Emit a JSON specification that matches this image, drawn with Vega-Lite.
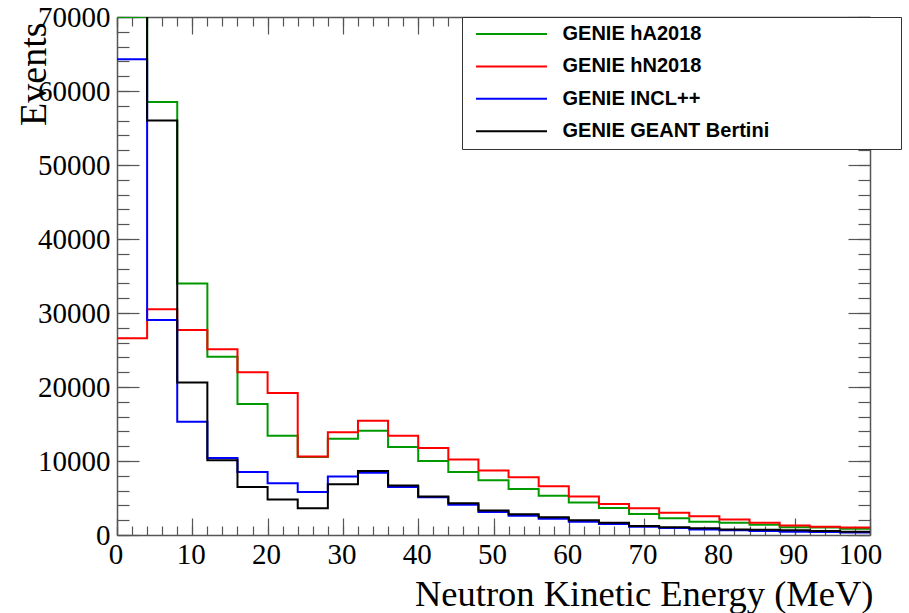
{
  "$schema": "https://vega.github.io/schema/vega-lite/v6.json",
  "width": 753,
  "height": 518,
  "autosize": {"type": "none"},
  "padding": {"left": 117, "top": 17, "right": 39, "bottom": 78},
  "background": "white",
  "config": {
    "view": {"stroke": null},
    "axis": {
      "grid": false,
      "labelFont": "Liberation Serif",
      "titleFont": "Liberation Serif",
      "labelColor": "black",
      "titleColor": "black",
      "tickColor": "#555",
      "domainColor": "#555",
      "tickWidth": 1.2,
      "domainWidth": 1.5
    }
  },
  "data": {
    "values": [
      {"m": "GENIE hA2018", "lo": 0, "hi": 4, "n": 70000},
      {"m": "GENIE hA2018", "lo": 4, "hi": 8, "n": 58500},
      {"m": "GENIE hA2018", "lo": 8, "hi": 12, "n": 34000},
      {"m": "GENIE hA2018", "lo": 12, "hi": 16, "n": 24100},
      {"m": "GENIE hA2018", "lo": 16, "hi": 20, "n": 17700},
      {"m": "GENIE hA2018", "lo": 20, "hi": 24, "n": 13400},
      {"m": "GENIE hA2018", "lo": 24, "hi": 28, "n": 10550},
      {"m": "GENIE hA2018", "lo": 28, "hi": 32, "n": 13000},
      {"m": "GENIE hA2018", "lo": 32, "hi": 36, "n": 14100},
      {"m": "GENIE hA2018", "lo": 36, "hi": 40, "n": 11900},
      {"m": "GENIE hA2018", "lo": 40, "hi": 44, "n": 10000},
      {"m": "GENIE hA2018", "lo": 44, "hi": 48, "n": 8500},
      {"m": "GENIE hA2018", "lo": 48, "hi": 52, "n": 7400},
      {"m": "GENIE hA2018", "lo": 52, "hi": 56, "n": 6200},
      {"m": "GENIE hA2018", "lo": 56, "hi": 60, "n": 5300},
      {"m": "GENIE hA2018", "lo": 60, "hi": 64, "n": 4400},
      {"m": "GENIE hA2018", "lo": 64, "hi": 68, "n": 3650},
      {"m": "GENIE hA2018", "lo": 68, "hi": 72, "n": 2850},
      {"m": "GENIE hA2018", "lo": 72, "hi": 76, "n": 2250},
      {"m": "GENIE hA2018", "lo": 76, "hi": 80, "n": 1800},
      {"m": "GENIE hA2018", "lo": 80, "hi": 84, "n": 1650},
      {"m": "GENIE hA2018", "lo": 84, "hi": 88, "n": 1400},
      {"m": "GENIE hA2018", "lo": 88, "hi": 92, "n": 1050},
      {"m": "GENIE hA2018", "lo": 92, "hi": 96, "n": 1000},
      {"m": "GENIE hA2018", "lo": 96, "hi": 100, "n": 850},
      {"m": "GENIE hN2018", "lo": 0, "hi": 4, "n": 26600},
      {"m": "GENIE hN2018", "lo": 4, "hi": 8, "n": 30500},
      {"m": "GENIE hN2018", "lo": 8, "hi": 12, "n": 27700},
      {"m": "GENIE hN2018", "lo": 12, "hi": 16, "n": 25100},
      {"m": "GENIE hN2018", "lo": 16, "hi": 20, "n": 22000},
      {"m": "GENIE hN2018", "lo": 20, "hi": 24, "n": 19200},
      {"m": "GENIE hN2018", "lo": 24, "hi": 28, "n": 10600},
      {"m": "GENIE hN2018", "lo": 28, "hi": 32, "n": 13900},
      {"m": "GENIE hN2018", "lo": 32, "hi": 36, "n": 15450},
      {"m": "GENIE hN2018", "lo": 36, "hi": 40, "n": 13400},
      {"m": "GENIE hN2018", "lo": 40, "hi": 44, "n": 11750},
      {"m": "GENIE hN2018", "lo": 44, "hi": 48, "n": 10200},
      {"m": "GENIE hN2018", "lo": 48, "hi": 52, "n": 8700},
      {"m": "GENIE hN2018", "lo": 52, "hi": 56, "n": 7800},
      {"m": "GENIE hN2018", "lo": 56, "hi": 60, "n": 6600},
      {"m": "GENIE hN2018", "lo": 60, "hi": 64, "n": 5200},
      {"m": "GENIE hN2018", "lo": 64, "hi": 68, "n": 4200},
      {"m": "GENIE hN2018", "lo": 68, "hi": 72, "n": 3600},
      {"m": "GENIE hN2018", "lo": 72, "hi": 76, "n": 3000},
      {"m": "GENIE hN2018", "lo": 76, "hi": 80, "n": 2550},
      {"m": "GENIE hN2018", "lo": 80, "hi": 84, "n": 2100},
      {"m": "GENIE hN2018", "lo": 84, "hi": 88, "n": 1650},
      {"m": "GENIE hN2018", "lo": 88, "hi": 92, "n": 1300},
      {"m": "GENIE hN2018", "lo": 92, "hi": 96, "n": 1100},
      {"m": "GENIE hN2018", "lo": 96, "hi": 100, "n": 1000},
      {"m": "GENIE INCL++", "lo": 0, "hi": 4, "n": 64300},
      {"m": "GENIE INCL++", "lo": 4, "hi": 8, "n": 29050},
      {"m": "GENIE INCL++", "lo": 8, "hi": 12, "n": 15300},
      {"m": "GENIE INCL++", "lo": 12, "hi": 16, "n": 10400},
      {"m": "GENIE INCL++", "lo": 16, "hi": 20, "n": 8500},
      {"m": "GENIE INCL++", "lo": 20, "hi": 24, "n": 7000},
      {"m": "GENIE INCL++", "lo": 24, "hi": 28, "n": 5800},
      {"m": "GENIE INCL++", "lo": 28, "hi": 32, "n": 7900},
      {"m": "GENIE INCL++", "lo": 32, "hi": 36, "n": 8400},
      {"m": "GENIE INCL++", "lo": 36, "hi": 40, "n": 6500},
      {"m": "GENIE INCL++", "lo": 40, "hi": 44, "n": 5100},
      {"m": "GENIE INCL++", "lo": 44, "hi": 48, "n": 4100},
      {"m": "GENIE INCL++", "lo": 48, "hi": 52, "n": 3100},
      {"m": "GENIE INCL++", "lo": 52, "hi": 56, "n": 2600},
      {"m": "GENIE INCL++", "lo": 56, "hi": 60, "n": 2200},
      {"m": "GENIE INCL++", "lo": 60, "hi": 64, "n": 1800},
      {"m": "GENIE INCL++", "lo": 64, "hi": 68, "n": 1500},
      {"m": "GENIE INCL++", "lo": 68, "hi": 72, "n": 1100},
      {"m": "GENIE INCL++", "lo": 72, "hi": 76, "n": 950},
      {"m": "GENIE INCL++", "lo": 76, "hi": 80, "n": 750},
      {"m": "GENIE INCL++", "lo": 80, "hi": 84, "n": 650},
      {"m": "GENIE INCL++", "lo": 84, "hi": 88, "n": 550},
      {"m": "GENIE INCL++", "lo": 88, "hi": 92, "n": 450},
      {"m": "GENIE INCL++", "lo": 92, "hi": 96, "n": 400},
      {"m": "GENIE INCL++", "lo": 96, "hi": 100, "n": 350},
      {"m": "GENIE GEANT Bertini", "lo": 0, "hi": 4, "n": 72000},
      {"m": "GENIE GEANT Bertini", "lo": 4, "hi": 8, "n": 56000},
      {"m": "GENIE GEANT Bertini", "lo": 8, "hi": 12, "n": 20600},
      {"m": "GENIE GEANT Bertini", "lo": 12, "hi": 16, "n": 10100},
      {"m": "GENIE GEANT Bertini", "lo": 16, "hi": 20, "n": 6500},
      {"m": "GENIE GEANT Bertini", "lo": 20, "hi": 24, "n": 4800},
      {"m": "GENIE GEANT Bertini", "lo": 24, "hi": 28, "n": 3600},
      {"m": "GENIE GEANT Bertini", "lo": 28, "hi": 32, "n": 6850},
      {"m": "GENIE GEANT Bertini", "lo": 32, "hi": 36, "n": 8650},
      {"m": "GENIE GEANT Bertini", "lo": 36, "hi": 40, "n": 6700},
      {"m": "GENIE GEANT Bertini", "lo": 40, "hi": 44, "n": 5200},
      {"m": "GENIE GEANT Bertini", "lo": 44, "hi": 48, "n": 4300},
      {"m": "GENIE GEANT Bertini", "lo": 48, "hi": 52, "n": 3300},
      {"m": "GENIE GEANT Bertini", "lo": 52, "hi": 56, "n": 2800},
      {"m": "GENIE GEANT Bertini", "lo": 56, "hi": 60, "n": 2400},
      {"m": "GENIE GEANT Bertini", "lo": 60, "hi": 64, "n": 2000},
      {"m": "GENIE GEANT Bertini", "lo": 64, "hi": 68, "n": 1650},
      {"m": "GENIE GEANT Bertini", "lo": 68, "hi": 72, "n": 1200},
      {"m": "GENIE GEANT Bertini", "lo": 72, "hi": 76, "n": 1050},
      {"m": "GENIE GEANT Bertini", "lo": 76, "hi": 80, "n": 900},
      {"m": "GENIE GEANT Bertini", "lo": 80, "hi": 84, "n": 750},
      {"m": "GENIE GEANT Bertini", "lo": 84, "hi": 88, "n": 700},
      {"m": "GENIE GEANT Bertini", "lo": 88, "hi": 92, "n": 650},
      {"m": "GENIE GEANT Bertini", "lo": 92, "hi": 96, "n": 550},
      {"m": "GENIE GEANT Bertini", "lo": 96, "hi": 100, "n": 450}
    ]
  },
  "transform": [
    {"fold": ["lo", "hi"], "as": ["edge", "e"]}
  ],
  "resolve": {"axis": {"x": "independent", "y": "independent"}},
  "layer": [
    {
      "mark": {"type": "line", "clip": true, "strokeWidth": 2},
      "encoding": {
        "x": {
          "field": "e", "type": "quantitative",
          "scale": {"domain": [0, 100], "nice": false, "zero": false},
          "axis": {
            "orient": "bottom",
            "values": [0, 10, 20, 30, 40, 50, 60, 70, 80, 90, 100],
            "format": "d",
            "tickSize": -17,
            "labelPadding": 45,
            "labelBaseline": "alphabetic",
            "labelFontSize": 29,
            "labelFlush": false,
            "labelOverlap": false,
            "labelOffset": {"condition": {"test": "datum.value === 100", "value": -10}, "value": -1.5},
            "title": "Neutron Kinetic Energy (MeV)",
            "titleFontSize": 36.5,
            "titleFontWeight": "normal",
            "titleAnchor": "end",
            "titleAlign": "right",
            "titleBaseline": "alphabetic",
            "titleX": 756,
            "titleY": 70
          }
        },
        "y": {
          "field": "n", "type": "quantitative",
          "scale": {"domain": [0, 70000], "nice": false},
          "axis": {
            "orient": "left",
            "values": [0, 10000, 20000, 30000, 40000, 50000, 60000, 70000],
            "format": "d",
            "tickSize": -22,
            "labelPadding": 29,
            "labelFontSize": 29,
            "labelFlush": false,
            "labelOverlap": false,
            "title": "Events",
            "titleFontSize": 38,
            "titleFontWeight": "normal",
            "titleAngle": -90,
            "titleAnchor": "end",
            "titleAlign": "right",
            "titleBaseline": "alphabetic",
            "titleX": -72,
            "titleY": 5
          }
        },
        "color": {
          "field": "m", "type": "nominal",
          "scale": {
            "domain": ["GENIE hA2018", "GENIE hN2018", "GENIE INCL++", "GENIE GEANT Bertini"],
            "range": ["#009900", "#ff0000", "#0000ff", "#000000"]
          },
          "legend": {
            "orient": "none",
            "legendX": 345,
            "legendY": 0,
            "title": "\u00a0",
            "titleOrient": "right",
            "titleFontSize": 10,
            "titlePadding": 125,
            "padding": 7,
            "strokeColor": "#333",
            "fillColor": "white",
            "symbolType": "M-5.07,0H5.07",
            "symbolSize": 196,
            "symbolStrokeWidth": 2,
            "symbolOffset": 32.5,
            "labelOffset": 41,
            "labelFont": "Liberation Sans",
            "labelFontWeight": "bold",
            "labelFontSize": 20,
            "labelColor": "black",
            "labelLimit": 400,
            "rowPadding": 12.4
          }
        },
        "order": [
          {"field": "e", "type": "quantitative"},
          {"field": "edge", "type": "nominal"}
        ]
      }
    },
    {
      "mark": {"type": "point", "opacity": 0},
      "encoding": {
        "x": {
          "field": "e", "type": "quantitative",
          "scale": {"domain": [0, 100], "nice": false, "zero": false},
          "axis": {
            "orient": "bottom",
            "values": [0, 2, 4, 6, 8, 10, 12, 14, 16, 18, 20, 22, 24, 26, 28, 30, 32, 34, 36, 38, 40, 42, 44, 46, 48, 50, 52, 54, 56, 58, 60, 62, 64, 66, 68, 70, 72, 74, 76, 78, 80, 82, 84, 86, 88, 90, 92, 94, 96, 98, 100],
            "tickSize": -9,
            "labels": false,
            "domain": false,
            "title": null
          }
        },
        "y": {
          "field": "n", "type": "quantitative",
          "scale": {"domain": [0, 70000], "nice": false},
          "axis": {
            "orient": "left",
            "values": [0, 2000, 4000, 6000, 8000, 10000, 12000, 14000, 16000, 18000, 20000, 22000, 24000, 26000, 28000, 30000, 32000, 34000, 36000, 38000, 40000, 42000, 44000, 46000, 48000, 50000, 52000, 54000, 56000, 58000, 60000, 62000, 64000, 66000, 68000, 70000],
            "tickSize": -12,
            "labels": false,
            "domain": false,
            "title": null
          }
        }
      }
    },
    {
      "mark": {"type": "point", "opacity": 0},
      "encoding": {
        "x": {
          "field": "e", "type": "quantitative",
          "scale": {"domain": [0, 100], "nice": false, "zero": false},
          "axis": {
            "orient": "top",
            "values": [0, 10, 20, 30, 40, 50, 60, 70, 80, 90, 100],
            "tickSize": -17,
            "labels": false,
            "title": null
          }
        },
        "y": {
          "field": "n", "type": "quantitative",
          "scale": {"domain": [0, 70000], "nice": false},
          "axis": {
            "orient": "right",
            "values": [0, 10000, 20000, 30000, 40000, 50000, 60000, 70000],
            "tickSize": -22,
            "labels": false,
            "title": null
          }
        }
      }
    },
    {
      "mark": {"type": "point", "opacity": 0},
      "encoding": {
        "x": {
          "field": "e", "type": "quantitative",
          "scale": {"domain": [0, 100], "nice": false, "zero": false},
          "axis": {
            "orient": "top",
            "values": [0, 2, 4, 6, 8, 10, 12, 14, 16, 18, 20, 22, 24, 26, 28, 30, 32, 34, 36, 38, 40, 42, 44, 46, 48, 50, 52, 54, 56, 58, 60, 62, 64, 66, 68, 70, 72, 74, 76, 78, 80, 82, 84, 86, 88, 90, 92, 94, 96, 98, 100],
            "tickSize": -9,
            "labels": false,
            "domain": false,
            "title": null
          }
        },
        "y": {
          "field": "n", "type": "quantitative",
          "scale": {"domain": [0, 70000], "nice": false},
          "axis": {
            "orient": "right",
            "values": [0, 2000, 4000, 6000, 8000, 10000, 12000, 14000, 16000, 18000, 20000, 22000, 24000, 26000, 28000, 30000, 32000, 34000, 36000, 38000, 40000, 42000, 44000, 46000, 48000, 50000, 52000, 54000, 56000, 58000, 60000, 62000, 64000, 66000, 68000, 70000],
            "tickSize": -12,
            "labels": false,
            "domain": false,
            "title": null
          }
        }
      }
    }
  ]
}
